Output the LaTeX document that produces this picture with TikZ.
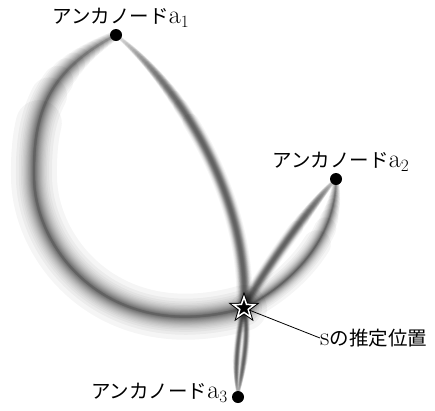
\documentclass[tikz,border=0pt]{standalone}
\usepackage{fontspec}
\newfontfamily\cjk{Noto Sans CJK JP}
\usetikzlibrary{calc,shapes.geometric}
% blur profiles: relative half width of stroke number \k (1..24)
\newcommand\profpeak{max(0.05,ln(25/\k)/ln(25))}
\newcommand\profflat{max(0.12,sqrt(ln(25/\k)/ln(25)))}
\newcommand\blurlayer[1]{%
  \pgfmathsetlengthmacro\lw{2*\r*#1}%
  \pgfsetlinewidth{\lw}%
  \pgfsetroundcap
  \pgfsetstrokeopacity{0.04}%
  \pgfsetstrokecolor{black}%
}
% one bezier: #1..#4 coordinate names; #5 half width; #6 taper (curve time); #7 profile
\newcommand\blurarc[7]{%
  \foreach \k in {1,...,24}{%
    \pgfmathsetmacro\r{#7}%
    \pgfmathsetmacro\st{#6*max(0,\r-0.2)/0.8}%
    \begin{pgfscope}%
      \blurlayer{#5}%
      \pgfpathcurvebetweentime{\st}{1}{\pgfpointanchor{#1}{center}}{\pgfpointanchor{#2}{center}}{\pgfpointanchor{#3}{center}}{\pgfpointanchor{#4}{center}}%
      \pgfusepath{stroke}%
    \end{pgfscope}%
  }%
}
% two beziers: #1..#7 coordinate names; #8 half width; #9 taper on the first piece
\newcommand\blurtwo[9]{%
  \foreach \k in {1,...,24}{%
    \pgfmathsetmacro\r{\profpeak}%
    \pgfmathsetmacro\st{#9*max(0,\r-0.2)/0.8}%
    \begin{pgfscope}%
      \blurlayer{#8}%
      \pgfpathcurvebetweentime{\st}{1}{\pgfpointanchor{#1}{center}}{\pgfpointanchor{#2}{center}}{\pgfpointanchor{#3}{center}}{\pgfpointanchor{#4}{center}}%
      \pgfpathcurveto{\pgfpointanchor{#5}{center}}{\pgfpointanchor{#6}{center}}{\pgfpointanchor{#7}{center}}%
      \pgfusepath{stroke}%
    \end{pgfscope}%
  }%
}
\newcommand\latin{\rmfamily\fontsize{26}{28}\selectfont}
\begin{document}
\begin{tikzpicture}[x=1pt,y=-1pt,
  anchordot/.style={circle,fill=black,minimum size=12pt,inner sep=0pt},
  lbl/.style={inner sep=0pt,font=\fontsize{19.5}{22}\selectfont\cjk},
  starnode/.style={star,star points=5,star point ratio=2.5,minimum size=22pt,inner sep=0pt}]
\useasboundingbox (0,0) rectangle (435,410);
% curve geometry
\coordinate (S) at (244,308);
\coordinate (P1) at (116,35);
\coordinate (P2) at (336,179);
\coordinate (P3) at (238,397);
\coordinate (A1) at (50,70);    \coordinate (A2) at (33,110);   \coordinate (AL) at (34,176);
\coordinate (A3) at (34,252);   \coordinate (A4) at (112,346);
\coordinate (B1) at (180,85);   \coordinate (B2) at (250,200);
\coordinate (C1) at (311,204);  \coordinate (C2) at (256,282);
\coordinate (D1) at (336,240);  \coordinate (D2) at (290,285);
\coordinate (E1) at (234,370);  \coordinate (E2) at (238,335);
\coordinate (F1) at (242,370);  \coordinate (F2) at (250,335);
% blurred arcs
\blurtwo{P1}{A1}{A2}{AL}{A3}{A4}{S}{23}{0.7}
\blurarc{P1}{B1}{B2}{S}{8}{0.4}{\profflat}
\blurarc{P2}{C1}{C2}{S}{7}{0.4}{\profflat}
\blurarc{P2}{D1}{D2}{S}{14}{0.4}{\profpeak}
\blurarc{P3}{E1}{E2}{S}{4}{0.4}{\profflat}
\blurarc{P3}{F1}{F2}{S}{4}{0.4}{\profflat}
% anchors
\node[anchordot] (a1) at (P1) {};
\node[anchordot] (a2) at (P2) {};
\node[anchordot] (a3) at (P3) {};
\node[lbl] (l1) at (121,18) {アンカノード{\latin a$_1$}};
\node[lbl] (l2) at (341,162) {アンカノード{\latin a$_2$}};
\node[lbl,anchor=east] (l3) at (228,393) {アンカノード{\latin a$_3$}};
% estimated position
\node[starnode,draw=black,line width=3.5pt] at (S) {};
\node[starnode,fill=black,draw=white,line width=1.5pt] (s) at (S) {};
\node[lbl,anchor=west] (sl) at (320,338) {{\latin s}の推定位置};
\draw[line width=0.8pt] (s) -- (sl.west);
\end{tikzpicture}
\end{document}
